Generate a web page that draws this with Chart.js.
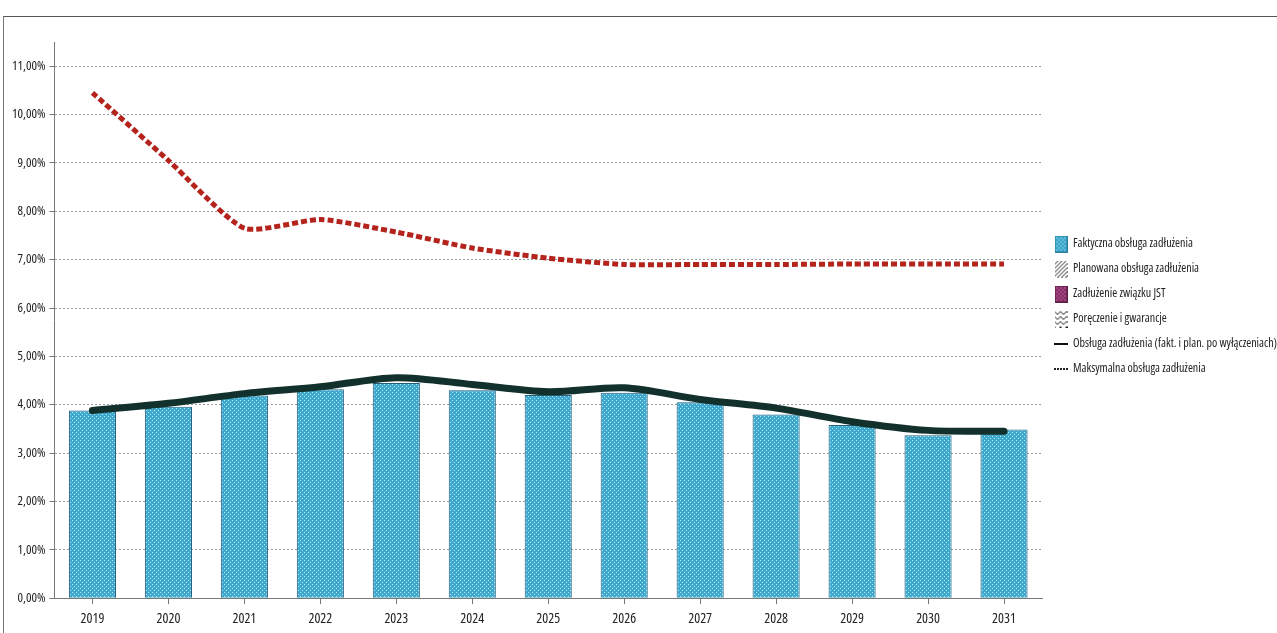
<!DOCTYPE html>
<html lang="pl">
<head>
<meta charset="utf-8">
<script src="https://cdn.jsdelivr.net/npm/chart.js@4.4.1/dist/chart.umd.min.js"></script>
<style>
  html, body { margin: 0; padding: 0; background: #fff; overflow: hidden; }
  #frame { position: absolute; left: 3px; top: 16px; width: 1280px; height: 620px;
           border-top: 1px solid #555; border-left: 1px solid #777; }
  #wrap { position: absolute; left: 0; top: 0; width: 1277px; height: 633px; }
</style>
</head>
<body>
<div id="frame"></div>
<div id="wrap"><canvas id="chart" width="1277" height="633"></canvas></div>
<script>
'use strict';

// values (percent)
const years = ['2019', '2020', '2021', '2022', '2023', '2024', '2025', '2026', '2027', '2028', '2029', '2030', '2031'];
const faktyczna = [3.88, 3.96, 4.19, 4.32, 4.45, 4.30, 4.20, 4.25, 4.05, 3.80, 3.58, 3.37, 3.49];
const planowana = [];
const zwiazekJst = [];
const poreczenia = [];
const obsluga = [3.88, 4.03, 4.23, 4.37, 4.56, 4.42, 4.27, 4.35, 4.11, 3.93, 3.65, 3.47, 3.45];
const maksymalna = [10.45, 9.05, 7.65, 7.83, 7.57, 7.24, 7.03, 6.90, 6.90, 6.90, 6.91, 6.91, 6.91];

// Open Sans is variable here, so "condensed" gives the narrow print look
const FAMILY = "'Open Sans'";
const NARROW = 'condensed';

/** small tiled patterns, close to the print texture */
function makeTile(w, h, draw) {
  const c = document.createElement('canvas');
  c.width = w;
  c.height = h;
  draw(c.getContext('2d'), w, h);
  return c;
}

const dotsTile = makeTile(4, 4, (g) => {
  g.fillStyle = '#3ea9cd';
  g.fillRect(0, 0, 4, 4);
  g.fillStyle = '#b9e7f4';
  g.fillRect(0, 0, 1, 1);
  g.fillRect(2, 2, 1, 1);
});
const purpleTile = makeTile(4, 4, (g) => {
  g.fillStyle = '#8a2f6a';
  g.fillRect(0, 0, 4, 4);
  g.fillStyle = '#d48ab8';
  g.fillRect(0, 0, 1, 1);
  g.fillRect(2, 2, 1, 1);
});
const hatchTile = makeTile(4, 4, (g) => {
  g.fillStyle = '#fff';
  g.fillRect(0, 0, 4, 4);
  g.fillStyle = '#222';
  for (let i = 0; i < 4; i++) g.fillRect(3 - i, i, 1, 1);
});
const zigzagTile = makeTile(6, 5, (g) => {
  g.fillStyle = '#fff';
  g.fillRect(0, 0, 6, 5);
  g.strokeStyle = '#222';
  g.lineWidth = 1;
  g.beginPath();
  g.moveTo(0, 1); g.lineTo(3, 4); g.lineTo(6, 1);
  g.stroke();
});

const ctx0 = document.getElementById('chart').getContext('2d');
const dotsPattern = ctx0.createPattern(dotsTile, 'repeat');

/** legend swatches */
function boxSwatch(tile, border) {
  return makeTile(13, 17, (g, w, h) => {
    g.fillStyle = g.createPattern(tile, 'repeat');
    g.fillRect(0, 0, w, h);
    if (border) {
      g.strokeStyle = border;
      g.strokeRect(0.5, 0.5, w - 1, h - 1);
    }
  });
}
function lineSwatch(color, dash) {
  return makeTile(14, 4, (g, w) => {
    g.strokeStyle = color;
    g.lineWidth = 2;
    g.setLineDash(dash);
    g.beginPath();
    g.moveTo(0, 2);
    g.lineTo(w, 2);
    g.stroke();
  });
}
const swatches = [
  boxSwatch(dotsTile, '#2d7fa0'),
  boxSwatch(hatchTile, null),
  boxSwatch(purpleTile, '#5c1f47'),
  boxSwatch(zigzagTile, null),
  lineSwatch('#111', []),
  lineSwatch('#222', [2, 1])
];

const pct = v => v.toFixed(2).replace('.', ',') + '%';

// moves the legend column to where the scan has it
const legendShift = {
  id: 'legendShift',
  afterLayout(chart) {
    const lg = chart.legend;
    const h = lg.bottom - lg.top;
    lg.top = 225;
    lg.bottom = 225 + h;
  }
};

new Chart(ctx0, {
  data: {
    labels: years,
    datasets: [
      { type: 'bar', label: 'Faktyczna obsługa zadłużenia', data: faktyczna,
        backgroundColor: dotsPattern, borderColor: '#235f7c', borderWidth: 1,
        grouped: false, barPercentage: 0.62, categoryPercentage: 1, order: 3 },
      { type: 'bar', label: 'Planowana obsługa zadłużenia', data: planowana,
        backgroundColor: '#fff', grouped: false, order: 3 },
      { type: 'bar', label: 'Zadłużenie związku JST', data: zwiazekJst,
        backgroundColor: '#8a2f6a', grouped: false, order: 3 },
      { type: 'bar', label: 'Poręczenie i gwarancje', data: poreczenia,
        backgroundColor: '#fff', grouped: false, order: 3 },
      { type: 'line', label: 'Obsługa zadłużenia (fakt. i plan. po wyłączeniach)', data: obsluga,
        borderColor: '#12302c', borderWidth: 7, tension: 0.3, pointRadius: 0,
        borderCapStyle: 'round', order: 2 },
      { type: 'line', label: 'Maksymalna obsługa zadłużenia', data: maksymalna,
        borderColor: '#b4241c', borderWidth: 5, borderDash: [6, 3], tension: 0.2,
        pointRadius: 0, order: 1 }
    ]
  },
  options: {
    responsive: false,
    animation: false,
    events: [],
    layout: { padding: { left: 8, top: 42, bottom: 0, right: 0 } },
    plugins: {
      tooltip: { enabled: false },
      legend: {
        position: 'right',
        align: 'start',
        maxWidth: 235,
        labels: {
          usePointStyle: true,
          pointStyleWidth: 12,
          padding: 13,
          color: '#222',
          font: { family: FAMILY, weight: NARROW, size: 12 },
          generateLabels: chart => chart.data.datasets.map((ds, i) => ({
            text: ds.label,
            pointStyle: swatches[i],
            datasetIndex: i,
            hidden: false,
            lineWidth: 0,
            fontColor: '#222'
          }))
        }
      }
    },
    scales: {
      x: {
        offset: true,
        grid: { display: true, drawOnChartArea: false, offset: false, tickLength: 6, color: '#777' },
        border: { color: '#777' },
        ticks: { color: '#222', font: { family: FAMILY, weight: NARROW, size: 14 }, padding: 6 }
      },
      y: {
        min: 0,
        max: 11.5,
        afterBuildTicks: scale => {
          scale.ticks = scale.ticks.filter(t => Number.isInteger(t.value));
        },
        ticks: { stepSize: 1, color: '#222', font: { family: FAMILY, weight: NARROW, size: 13 }, padding: 4,
                 callback: v => pct(v) },
        grid: { color: '#9a9a9a', tickLength: 5, tickColor: '#777' },
        border: { color: '#777', dash: [2, 2] }
      }
    }
  },
  plugins: [legendShift]
});
</script>
</body>
</html>
